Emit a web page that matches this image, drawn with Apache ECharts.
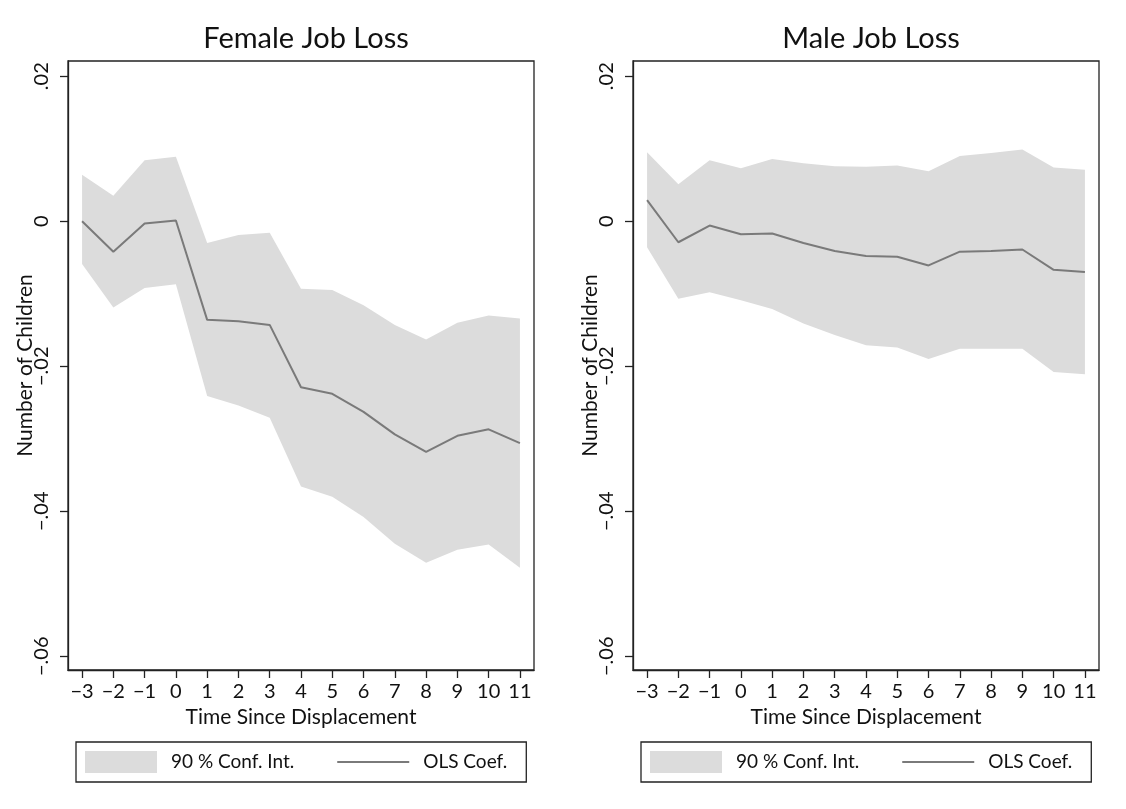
<!DOCTYPE html>
<html>
<head>
<meta charset="utf-8">
<script src="https://cdn.jsdelivr.net/npm/echarts@6/dist/echarts.min.js"></script>
<style>
html,body{margin:0;padding:0;background:#fff;}
#chart{width:1126px;height:809px;}
</style>
</head>
<body>
<div id="chart"></div>
<script>
// ---- data ----
var panelTitles = ['Female Job Loss', 'Male Job Loss'];
var xValues = [-3, -2, -1, 0, 1, 2, 3, 4, 5, 6, 7, 8, 9, 10, 11];
var xTickLabels = ['\u22123', '\u22122', '\u22121', '0', '1', '2', '3', '4', '5', '6', '7', '8', '9', '10', '11'];
var yTickValues = [-0.06, -0.04, -0.02, 0, 0.02];
var yTickLabels = ['\u2212.06', '\u2212.04', '\u2212.02', '0', '.02'];

var femaleCoef  = [0.0000, -0.0042, -0.0003, 0.0001, -0.0136, -0.0138, -0.0143, -0.0229, -0.0238, -0.0263, -0.0294, -0.0318, -0.0296, -0.0287, -0.0306];
var femaleUpper = [0.0064, 0.0035, 0.0084, 0.0089, -0.0030, -0.0019, -0.0016, -0.0093, -0.0095, -0.0116, -0.0143, -0.0163, -0.0140, -0.0130, -0.0134];
var femaleLower = [-0.0059, -0.0119, -0.0092, -0.0087, -0.0241, -0.0254, -0.0271, -0.0366, -0.0380, -0.0408, -0.0445, -0.0471, -0.0453, -0.0446, -0.0478];

var maleCoef  = [0.0029, -0.0029, -0.0006, -0.0018, -0.0017, -0.0030, -0.0041, -0.0048, -0.0049, -0.0061, -0.0042, -0.0041, -0.0039, -0.0067, -0.0070];
var maleUpper = [0.0095, 0.0051, 0.0084, 0.0073, 0.0086, 0.0080, 0.0076, 0.0075, 0.0077, 0.0069, 0.0090, 0.0094, 0.0099, 0.0074, 0.0071];
var maleLower = [-0.0036, -0.0107, -0.0098, -0.0109, -0.0121, -0.0141, -0.0157, -0.0171, -0.0174, -0.0190, -0.0176, -0.0176, -0.0176, -0.0208, -0.0211];

var ciName = '90 % Conf. Int.';
var coefName = 'OLS Coef.';

// ---- styling / layout ----
var FONT = 'Lato';
var INK = '#111';
var AXIS = '#222';
var BAND = '#dcdcdc';
var LINE = '#7a7a7a';
var gridLefts = [68, 633];

function pairs(ys) { return xValues.map(function (x, i) { return [x, ys[i]]; }); }
function bandRows(lo, up) { return xValues.map(function (x, i) { return [x, lo[i], up[i]]; }); }
function fmt(list, labels) {
  return function (v) {
    for (var i = 0; i < list.length; i++) { if (Math.abs(list[i] - v) < 1e-9) return labels[i]; }
    return '';
  };
}
function bandRenderer(lo, up) {
  return function (params, api) {
    if (params.dataIndex !== 0) return null;
    var pts = [];
    for (var i = 0; i < xValues.length; i++) pts.push(api.coord([xValues[i], up[i]]));
    for (var j = xValues.length - 1; j >= 0; j--) pts.push(api.coord([xValues[j], lo[j]]));
    return { type: 'polygon', shape: { points: pts }, style: { fill: BAND, stroke: null } };
  };
}

var panels = [
  { coef: femaleCoef, upper: femaleUpper, lower: femaleLower },
  { coef: maleCoef, upper: maleUpper, lower: maleLower }
];

var option = {
  backgroundColor: '#fff',
  animation: false,
  textStyle: { fontFamily: FONT, color: INK },
  title: [],
  grid: [],
  xAxis: [],
  yAxis: [],
  legend: [],
  series: []
};

panels.forEach(function (p, k) {
  var left = gridLefts[k];
  option.title.push({
    text: panelTitles[k], left: left + 233, top: 19, textAlign: 'center',
    textStyle: { fontFamily: FONT, fontSize: 29, fontWeight: 'normal', color: INK }
  });
  option.grid.push({
    left: left, top: 61, width: 466, height: 609,
    show: true, borderColor: AXIS, borderWidth: 1.3, backgroundColor: '#fff'
  });
  option.xAxis.push({
    type: 'value', gridIndex: k, min: -3.45, max: 11.45, z: 10,
    name: 'Time Since Displacement', nameLocation: 'middle', nameGap: 37, nameMoveOverlap: false,
    nameTextStyle: { fontFamily: FONT, fontSize: 21, color: INK },
    axisLine: { show: true, onZero: false, lineStyle: { color: AXIS, width: 1.3 } },
    axisTick: { show: true, length: 8, customValues: xValues, lineStyle: { color: AXIS, width: 1.3 } },
    axisLabel: { customValues: xValues, margin: 12, fontFamily: FONT, fontSize: 20, color: INK, formatter: fmt(xValues, xTickLabels) },
    splitLine: { show: false }
  });
  option.yAxis.push({
    type: 'value', gridIndex: k, min: -0.0619, max: 0.0221, z: 10,
    name: 'Number of Children', nameLocation: 'middle', nameGap: 32, nameMoveOverlap: false,
    nameTextStyle: { fontFamily: FONT, fontSize: 21, color: INK },
    axisLine: { show: true, onZero: false, lineStyle: { color: AXIS, width: 1.3 } },
    axisTick: { show: true, length: 8, customValues: yTickValues, lineStyle: { color: AXIS, width: 1.3 } },
    axisLabel: { customValues: yTickValues, rotate: 90, margin: 16, fontFamily: FONT, fontSize: 20, color: INK, formatter: fmt(yTickValues, yTickLabels) },
    splitLine: { show: false }
  });
  option.legend.push({
    left: left + 8, top: 742,
    orient: 'horizontal',
    padding: [9, 19, 9, 9],
    itemWidth: 72, itemHeight: 22, itemGap: 43,
    borderColor: AXIS, borderWidth: 1.3, backgroundColor: '#fff',
    symbolKeepAspect: true,
    selectedMode: false,
    textStyle: { fontFamily: FONT, fontSize: 19, color: INK, padding: [0, 0, 0, 9] },
    data: [
      { name: ciName, icon: 'rect', itemStyle: { color: BAND } },
      { name: coefName, icon: 'path://M0,0H72V2H0Z', itemStyle: { color: LINE } }
    ]
  });
  option.series.push({
    name: ciName, type: 'custom', xAxisIndex: k, yAxisIndex: k,
    data: bandRows(p.lower, p.upper),
    encode: { x: 0, y: [1, 2] },
    itemStyle: { color: BAND },
    renderItem: bandRenderer(p.lower, p.upper),
    silent: true, z: 2
  });
  option.series.push({
    name: coefName, type: 'line', xAxisIndex: k, yAxisIndex: k,
    data: pairs(p.coef), symbol: 'none', z: 5,
    itemStyle: { color: LINE },
    lineStyle: { color: LINE, width: 2 }
  });
});

var chart = echarts.init(document.getElementById('chart'), null, { renderer: 'canvas' });
chart.setOption(option);
</script>
</body>
</html>
